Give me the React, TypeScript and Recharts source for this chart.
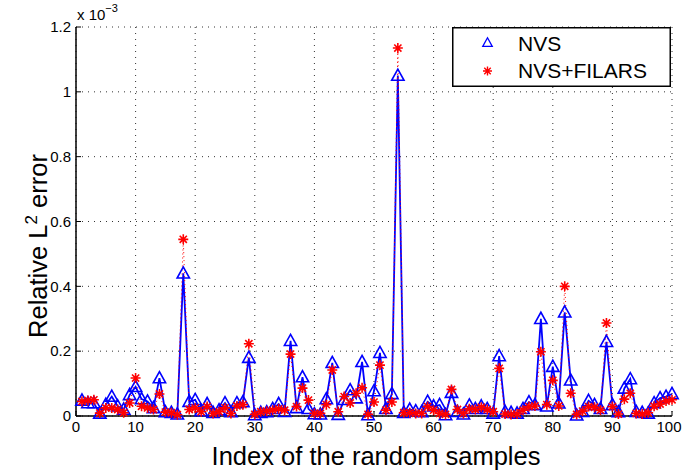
import React from 'react';
import { LineChart, Line, XAxis, YAxis, CartesianGrid, Legend } from 'recharts';

// Relative L2 error, in units of 1e-3 (axis shows "x 10^-3")
const nvs = [
  0.048, 0.040, 0.040, 0.008, 0.035, 0.060, 0.030, 0.020, 0.065, 0.090,
  0.052, 0.045, 0.025, 0.117, 0.012, 0.010, 0.005, 0.440, 0.044, 0.050,
  0.015, 0.037, 0.010, 0.018, 0.040, 0.012, 0.040, 0.043, 0.180, 0.003,
  0.010, 0.012, 0.022, 0.037, 0.013, 0.232, 0.025, 0.120, 0.022, 0.006,
  0.005, 0.052, 0.164, 0.004, 0.050, 0.080, 0.055, 0.167, 0.003, 0.077,
  0.195, 0.022, 0.068, 1.050, 0.010, 0.020, 0.015, 0.012, 0.044, 0.030,
  0.034, 0.003, 0.072, 0.013, 0.005, 0.033, 0.022, 0.030, 0.022, 0.008,
  0.185, 0.013, 0.010, 0.008, 0.022, 0.043, 0.034, 0.300, 0.030, 0.152,
  0.039, 0.320, 0.110, 0.002, 0.013, 0.047, 0.034, 0.022, 0.229, 0.034,
  0.012, 0.085, 0.114, 0.013, 0.010, 0.008, 0.040, 0.055, 0.060, 0.068,
];

const nvsFilars = [
  0.045, 0.048, 0.050, 0.009, 0.025, 0.025, 0.020, 0.010, 0.040, 0.117,
  0.030, 0.025, 0.020, 0.068, 0.012, 0.010, 0.004, 0.545, 0.020, 0.025,
  0.013, 0.029, 0.008, 0.013, 0.025, 0.008, 0.031, 0.035, 0.223, 0.005,
  0.013, 0.015, 0.018, 0.022, 0.018, 0.191, 0.029, 0.086, 0.049, 0.008,
  0.008, 0.035, 0.142, 0.013, 0.060, 0.040, 0.070, 0.087, 0.005, 0.043,
  0.157, 0.018, 0.043, 1.135, 0.010, 0.010, 0.008, 0.008, 0.029, 0.018,
  0.008, 0.005, 0.082, 0.020, 0.008, 0.022, 0.020, 0.027, 0.020, 0.013,
  0.147, 0.006, 0.005, 0.006, 0.018, 0.029, 0.031, 0.198, 0.035, 0.110,
  0.031, 0.400, 0.070, 0.005, 0.015, 0.029, 0.027, 0.018, 0.287, 0.029,
  0.006, 0.052, 0.070, 0.008, 0.006, 0.010, 0.030, 0.037, 0.046, 0.050,
];

const sampleIndex = nvs.map((_, i) => i + 1);
const xTicks = [0, 10, 20, 30, 40, 50, 60, 70, 80, 90, 100];
const yTicks = [0, 0.2, 0.4, 0.6, 0.8, 1, 1.2];
const seriesNames = ['NVS', 'NVS+FILARS'];

const data = sampleIndex.map((idx, i) => ({ idx, nvs: nvs[i], filars: nvsFilars[i] }));

const FONT = '"Liberation Sans", Arial, Helvetica, sans-serif';
const BLUE = '#0000ff';
const RED = '#ff0000';

const trianglePath = (cx: number, cy: number, r: number) =>
  `M${cx},${cy - r} L${cx + r * 0.95},${cy + r * 0.72} L${cx - r * 0.95},${cy + r * 0.72} Z`;

const TriangleDot = (props: any) => {
  const { cx, cy, index } = props;
  if (cx == null || cy == null) return <g key={`t${index}`} />;
  return (
    <path key={`t${index}`} d={trianglePath(cx, cy, 6.5)} fill="none" stroke={BLUE} strokeWidth={1.6} />
  );
};

const starLines = (cx: number, cy: number, r: number) => {
  const d = r * 0.72;
  return `M${cx},${cy - r} L${cx},${cy + r} M${cx - r},${cy} L${cx + r},${cy} M${cx - d},${cy - d} L${cx + d},${cy + d} M${cx - d},${cy + d} L${cx + d},${cy - d}`;
};

const StarDot = (props: any) => {
  const { cx, cy, index } = props;
  if (cx == null || cy == null) return <g key={`s${index}`} />;
  return <path key={`s${index}`} d={starLines(cx, cy, 5)} fill="none" stroke={RED} strokeWidth={1.6} />;
};

const XTick = (props: any) => {
  const { x, y, payload } = props;
  const isLast = payload.value === xTicks[xTicks.length - 1];
  return (
    <text
      x={isLast ? x - 3 : x}
      y={y}
      dy="0.71em"
      textAnchor="middle"
      fontFamily={FONT}
      fontSize={15}
      fill="#000"
    >
      {String(payload.value)}
    </text>
  );
};

const LegendBox = () => (
  <svg width={219} height={60} style={{ display: 'block' }}>
    <rect x={0.75} y={0.75} width={217.5} height={58.5} fill="#fff" stroke="#000" strokeWidth={1.5} />
    <path d={trianglePath(35.5, 15.8, 5)} fill="none" stroke={BLUE} strokeWidth={1.3} />
    <text x={66} y={23.5} fontFamily={FONT} fontSize={21} fill="#000">{seriesNames[0]}</text>
    <path d={starLines(35.5, 44, 4.5)} fill="none" stroke={RED} strokeWidth={1.4} />
    <text x={66} y={51} fontFamily={FONT} fontSize={21} fill="#000">{seriesNames[1]}</text>
  </svg>
);

export default function App() {
  const tickStyle = { fill: '#000', fontSize: 15, fontFamily: FONT };
  return (
    <div style={{ position: 'absolute', left: 0, top: 0, width: 683, height: 472, background: '#fff' }}>
      <LineChart width={683} height={472} data={data} margin={{ top: 27, right: 11, bottom: 0, left: 0 }}>
        <CartesianGrid stroke="#333" strokeDasharray="1 5" strokeWidth={1} />
        <XAxis
          dataKey="idx"
          type="number"
          domain={[0, 100]}
          ticks={xTicks}
          interval={0}
          height={56}
          tickSize={-5}
          tickMargin={10}
          stroke="#000"
          axisLine={{ stroke: '#000', strokeWidth: 1.5 }}
          tickLine={{ stroke: '#000' }}
          tick={<XTick />}
        />
        <XAxis
          xAxisId="top"
          orientation="top"
          type="number"
          domain={[0, 100]}
          ticks={xTicks}
          interval={0}
          height={0}
          tickSize={-5}
          tickFormatter={() => ''}
          axisLine={{ stroke: '#000', strokeWidth: 1.5 }}
          tickLine={{ stroke: '#000' }}
        />
        <YAxis
          type="number"
          domain={[0, 1.2]}
          ticks={yTicks}
          interval={0}
          width={76}
          tickSize={-5}
          tickMargin={10}
          axisLine={{ stroke: '#000', strokeWidth: 1.5 }}
          tickLine={{ stroke: '#000' }}
          tick={tickStyle}
          tickFormatter={(v: number) => String(v)}
        />
        <YAxis
          yAxisId="right"
          orientation="right"
          type="number"
          domain={[0, 1.2]}
          ticks={yTicks}
          interval={0}
          width={0}
          tickSize={-5}
          tickFormatter={() => ''}
          axisLine={{ stroke: '#000', strokeWidth: 1.5 }}
          tickLine={{ stroke: '#000' }}
        />
        <Legend
          layout="horizontal"
          verticalAlign="middle"
          align="center"
          content={() => <LegendBox />}
          wrapperStyle={{ left: 452, top: 27, width: 219, height: 60 }}
        />
        <Line
          dataKey="nvs"
          name={seriesNames[0]}
          stroke={BLUE}
          strokeWidth={1.8}
          dot={TriangleDot}
          activeDot={false}
          isAnimationActive={false}
        />
        <Line
          dataKey="filars"
          name={seriesNames[1]}
          stroke={RED}
          strokeWidth={1}
          strokeDasharray="1 3"
          dot={StarDot}
          activeDot={false}
          isAnimationActive={false}
        />
      </LineChart>
      <svg
        width={683}
        height={472}
        style={{ position: 'absolute', left: 0, top: 0, pointerEvents: 'none' }}
      >
        <text x={77} y={20} fontFamily={FONT} fontSize={15} fill="#000">
          x 10<tspan dy={-8} fontSize={11}>−3</tspan>
        </text>
        <text
          transform="translate(47,246) rotate(-90)"
          textAnchor="middle"
          fontFamily={FONT}
          fontSize={25.5}
          fill="#000"
        >
          Relative L<tspan dy={-10} fontSize={17}>2</tspan><tspan dy={10}> error</tspan>
        </text>
        <text x={376} y={465} textAnchor="middle" fontFamily={FONT} fontSize={25.5} fill="#000">
          Index of the random samples
        </text>
      </svg>
    </div>
  );
}
